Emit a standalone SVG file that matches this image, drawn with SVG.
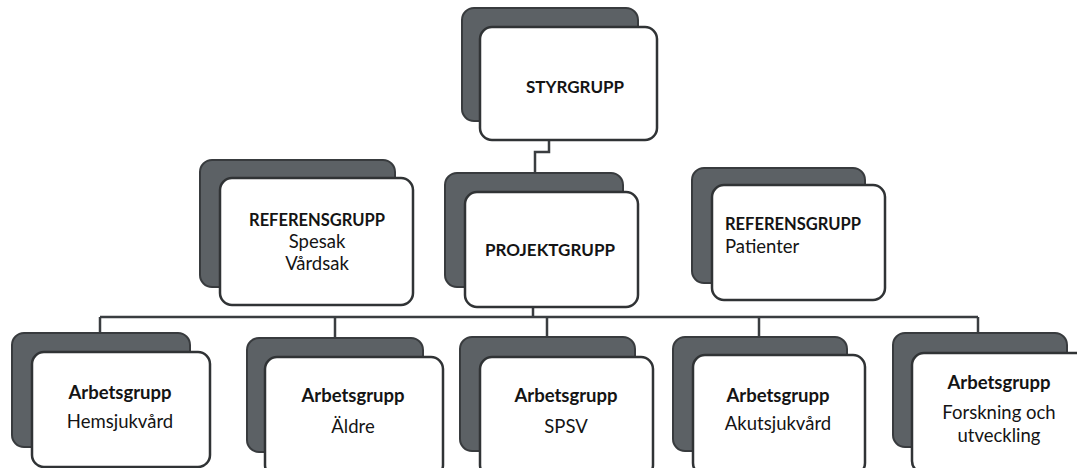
<svg xmlns="http://www.w3.org/2000/svg" width="1077" height="468" viewBox="0 0 1077 468">
  <style>
    .back { fill: #5c6165; stroke: #383b3e; stroke-width: 2; }
    .front { fill: #ffffff; stroke: #303335; stroke-width: 2.5; }
    .wire { fill: none; stroke: #3a3d40; stroke-width: 2.5; }
    .t { font-family: Lato, "Open Sans", "Liberation Sans", sans-serif; fill: #141414; }
    .b { font-weight: bold; }
    .h { font-size: 17px; }
    .r { font-size: 16.5px; }
    .s { font-size: 18.5px; }
    .w { font-size: 18.5px; font-weight: bold; }
    .c { text-anchor: middle; }
  </style>
  <rect width="1077" height="468" fill="#ffffff"/>

  <!-- connectors -->
  <g id="connectors">
    <polyline class="wire" points="549,140 549,152 535,152 535,173"/>
    <line class="wire" x1="533" y1="307" x2="533" y2="317"/>
    <line class="wire" x1="100" y1="317" x2="978" y2="317"/>
    <line class="wire" x1="100" y1="317" x2="100" y2="333"/>
    <line class="wire" x1="335" y1="317" x2="335" y2="338"/>
    <line class="wire" x1="547" y1="317" x2="547" y2="337"/>
    <line class="wire" x1="759" y1="317" x2="759" y2="337"/>
    <line class="wire" x1="978" y1="317" x2="978" y2="333"/>
  </g>

  <!-- top level -->
  <g id="styrgrupp">
    <rect class="back" x="462" y="8" width="176" height="113" rx="12"/>
    <rect class="front" x="480" y="27" width="177" height="113" rx="12"/>
    <text class="t b h c" x="575" y="93">STYRGRUPP</text>
  </g>

  <!-- middle level -->
  <g id="referensgrupp-vard">
    <rect class="back" x="200" y="160" width="195" height="127" rx="12"/>
    <rect class="front" x="220" y="178" width="193" height="127" rx="12"/>
    <text class="t b r c" x="317" y="226">REFERENSGRUPP</text>
    <text class="t s c" x="317" y="248">Spesak</text>
    <text class="t s c" x="317" y="270">Vårdsak</text>
  </g>

  <g id="projektgrupp">
    <rect class="back" x="445" y="173" width="178" height="114" rx="12"/>
    <rect class="front" x="465" y="192" width="173" height="115" rx="12"/>
    <text class="t b h c" x="550" y="256">PROJEKTGRUPP</text>
  </g>

  <g id="referensgrupp-patienter">
    <rect class="back" x="692" y="168" width="173" height="115" rx="12"/>
    <rect class="front" x="712" y="185" width="173" height="115" rx="12"/>
    <text class="t b r" x="725" y="230">REFERENSGRUPP</text>
    <text class="t s" x="725" y="253">Patienter</text>
  </g>

  <!-- working groups -->
  <g id="ag-hemsjukvard">
    <rect class="back" x="12" y="333" width="178" height="114" rx="12"/>
    <rect class="front" x="32" y="352" width="178" height="115" rx="12"/>
    <text class="t w c" x="120" y="399">Arbetsgrupp</text>
    <text class="t s c" x="120" y="428">Hemsjukvård</text>
  </g>

  <g id="ag-aldre">
    <rect class="back" x="247" y="338" width="176" height="114" rx="12"/>
    <rect class="front" x="265" y="357" width="178" height="120" rx="12"/>
    <text class="t w c" x="353" y="402">Arbetsgrupp</text>
    <text class="t s c" x="353" y="433">Äldre</text>
  </g>

  <g id="ag-spsv">
    <rect class="back" x="460" y="337" width="175" height="114" rx="12"/>
    <rect class="front" x="480" y="357" width="173" height="120" rx="12"/>
    <text class="t w c" x="566" y="402">Arbetsgrupp</text>
    <text class="t s c" x="566" y="433">SPSV</text>
  </g>

  <g id="ag-akutsjukvard">
    <rect class="back" x="673" y="337" width="174" height="114" rx="12"/>
    <rect class="front" x="693" y="355" width="172" height="120" rx="12"/>
    <text class="t w c" x="778" y="402">Arbetsgrupp</text>
    <text class="t s c" x="778" y="430">Akutsjukvård</text>
  </g>

  <g id="ag-forskning">
    <rect class="back" x="893" y="333" width="174" height="114" rx="12"/>
    <rect class="front" x="912" y="353" width="180" height="120" rx="12"/>
    <text class="t w c" x="999" y="389">Arbetsgrupp</text>
    <text class="t s c" x="999" y="419">Forskning och</text>
    <text class="t s c" x="999" y="442">utveckling</text>
  </g>
</svg>
